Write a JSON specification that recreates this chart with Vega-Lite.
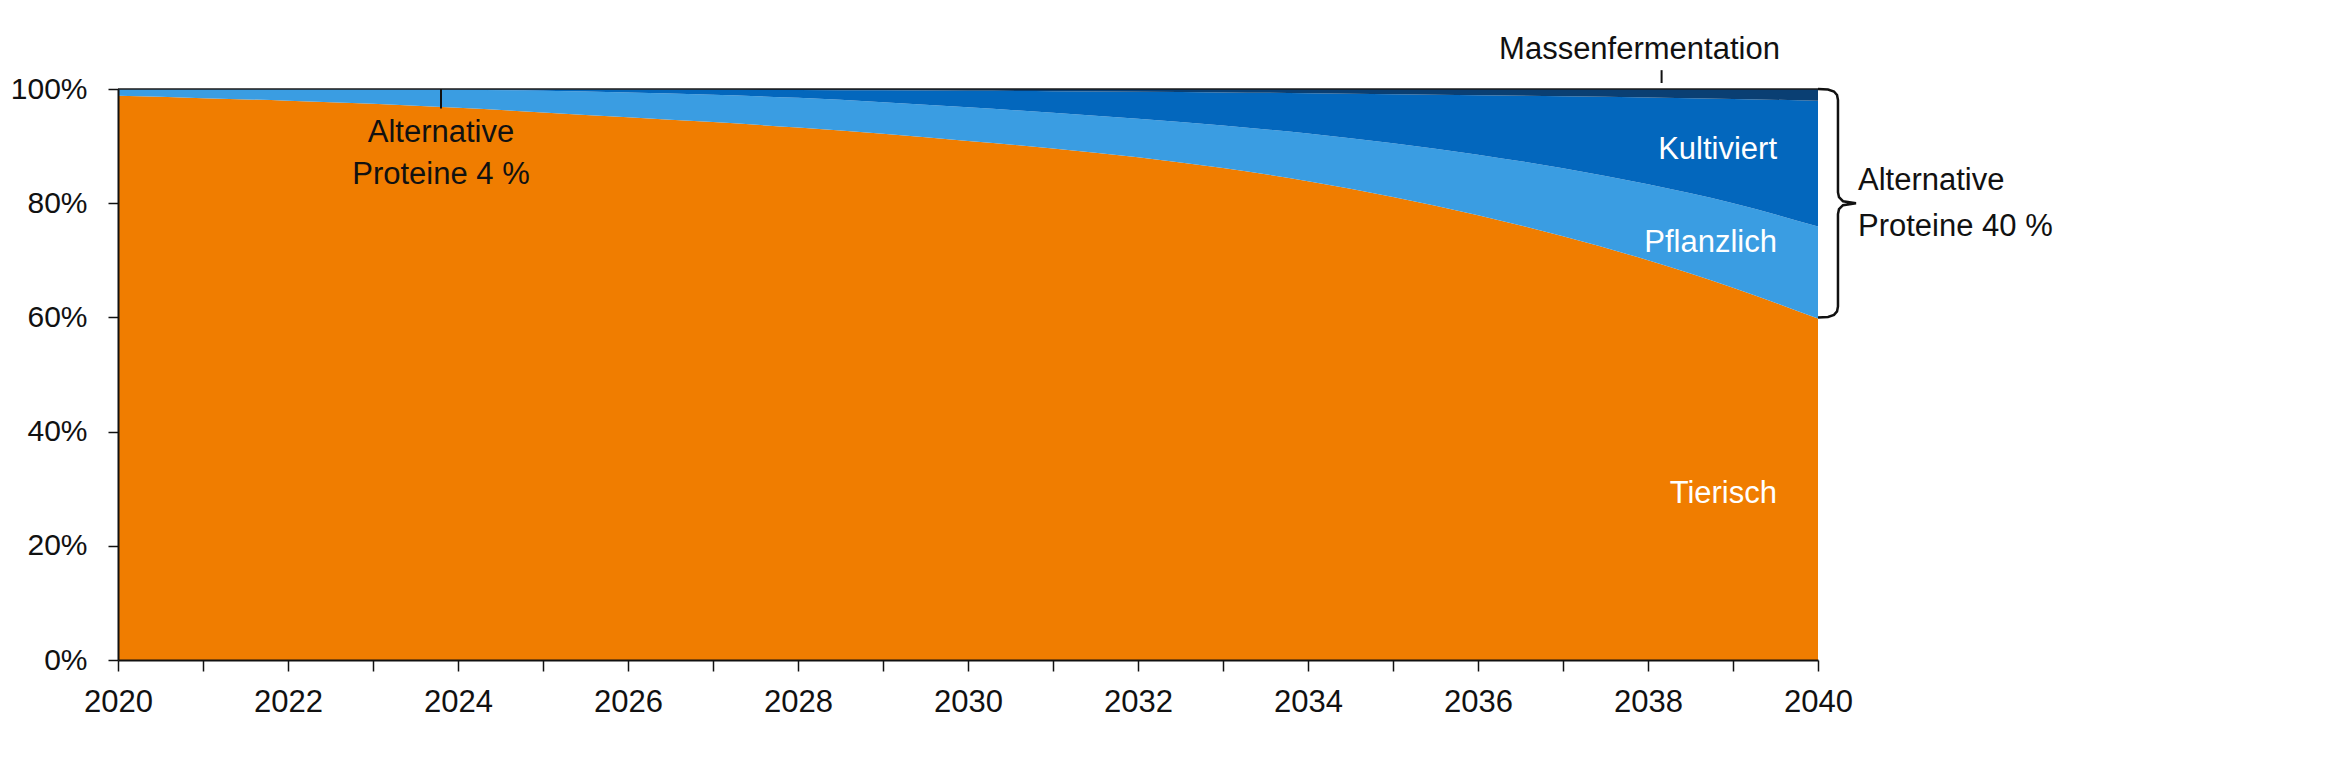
{
  "$schema": "https://vega.github.io/schema/vega-lite/v6.json",
  "autosize": "none",
  "width": 1700,
  "height": 571,
  "padding": {"left": 118, "top": 89, "right": 512, "bottom": 97},
  "config": {
    "view": {"stroke": null},
    "font": "Liberation Sans",
    "text": {"font": "Liberation Sans", "fontSize": 31, "color": "#111"}
  },
  "datasets": {
    "anteile": [
      {"jahr":2020,"typ":"Tierisch","anteil":98.8},{"jahr":2020,"typ":"Pflanzlich","anteil":1.17},{"jahr":2020,"typ":"Kultiviert","anteil":0.02},{"jahr":2020,"typ":"Massenfermentation","anteil":0.01},
      {"jahr":2021,"typ":"Tierisch","anteil":98.4},{"jahr":2021,"typ":"Pflanzlich","anteil":1.57},{"jahr":2021,"typ":"Kultiviert","anteil":0.02},{"jahr":2021,"typ":"Massenfermentation","anteil":0.01},
      {"jahr":2022,"typ":"Tierisch","anteil":97.95},{"jahr":2022,"typ":"Pflanzlich","anteil":2.0},{"jahr":2022,"typ":"Kultiviert","anteil":0.03},{"jahr":2022,"typ":"Massenfermentation","anteil":0.02},
      {"jahr":2023,"typ":"Tierisch","anteil":97.4},{"jahr":2023,"typ":"Pflanzlich","anteil":2.52},{"jahr":2023,"typ":"Kultiviert","anteil":0.05},{"jahr":2023,"typ":"Massenfermentation","anteil":0.03},
      {"jahr":2024,"typ":"Tierisch","anteil":96.7},{"jahr":2024,"typ":"Pflanzlich","anteil":3.15},{"jahr":2024,"typ":"Kultiviert","anteil":0.11},{"jahr":2024,"typ":"Massenfermentation","anteil":0.04},
      {"jahr":2025,"typ":"Tierisch","anteil":95.9},{"jahr":2025,"typ":"Pflanzlich","anteil":3.8},{"jahr":2025,"typ":"Kultiviert","anteil":0.24},{"jahr":2025,"typ":"Massenfermentation","anteil":0.06},
      {"jahr":2026,"typ":"Tierisch","anteil":95.05},{"jahr":2026,"typ":"Pflanzlich","anteil":4.35},{"jahr":2026,"typ":"Kultiviert","anteil":0.51},{"jahr":2026,"typ":"Massenfermentation","anteil":0.09},
      {"jahr":2027,"typ":"Tierisch","anteil":94.2},{"jahr":2027,"typ":"Pflanzlich","anteil":4.8},{"jahr":2027,"typ":"Kultiviert","anteil":0.87},{"jahr":2027,"typ":"Massenfermentation","anteil":0.13},
      {"jahr":2028,"typ":"Tierisch","anteil":93.25},{"jahr":2028,"typ":"Pflanzlich","anteil":5.2},{"jahr":2028,"typ":"Kultiviert","anteil":1.37},{"jahr":2028,"typ":"Massenfermentation","anteil":0.18},
      {"jahr":2029,"typ":"Tierisch","anteil":92.15},{"jahr":2029,"typ":"Pflanzlich","anteil":5.55},{"jahr":2029,"typ":"Kultiviert","anteil":2.06},{"jahr":2029,"typ":"Massenfermentation","anteil":0.24},
      {"jahr":2030,"typ":"Tierisch","anteil":90.9},{"jahr":2030,"typ":"Pflanzlich","anteil":5.9},{"jahr":2030,"typ":"Kultiviert","anteil":2.9},{"jahr":2030,"typ":"Massenfermentation","anteil":0.3},
      {"jahr":2031,"typ":"Tierisch","anteil":89.6},{"jahr":2031,"typ":"Pflanzlich","anteil":6.25},{"jahr":2031,"typ":"Kultiviert","anteil":3.77},{"jahr":2031,"typ":"Massenfermentation","anteil":0.38},
      {"jahr":2032,"typ":"Tierisch","anteil":88.05},{"jahr":2032,"typ":"Pflanzlich","anteil":6.75},{"jahr":2032,"typ":"Kultiviert","anteil":4.72},{"jahr":2032,"typ":"Massenfermentation","anteil":0.48},
      {"jahr":2033,"typ":"Tierisch","anteil":86.15},{"jahr":2033,"typ":"Pflanzlich","anteil":7.45},{"jahr":2033,"typ":"Kultiviert","anteil":5.8},{"jahr":2033,"typ":"Massenfermentation","anteil":0.6},
      {"jahr":2034,"typ":"Tierisch","anteil":83.85},{"jahr":2034,"typ":"Pflanzlich","anteil":8.35},{"jahr":2034,"typ":"Kultiviert","anteil":7.06},{"jahr":2034,"typ":"Massenfermentation","anteil":0.74},
      {"jahr":2035,"typ":"Tierisch","anteil":81.1},{"jahr":2035,"typ":"Pflanzlich","anteil":9.4},{"jahr":2035,"typ":"Kultiviert","anteil":8.6},{"jahr":2035,"typ":"Massenfermentation","anteil":0.9},
      {"jahr":2036,"typ":"Tierisch","anteil":77.9},{"jahr":2036,"typ":"Pflanzlich","anteil":10.6},{"jahr":2036,"typ":"Kultiviert","anteil":10.42},{"jahr":2036,"typ":"Massenfermentation","anteil":1.08},
      {"jahr":2037,"typ":"Tierisch","anteil":74.2},{"jahr":2037,"typ":"Pflanzlich","anteil":11.9},{"jahr":2037,"typ":"Kultiviert","anteil":12.62},{"jahr":2037,"typ":"Massenfermentation","anteil":1.28},
      {"jahr":2038,"typ":"Tierisch","anteil":70.0},{"jahr":2038,"typ":"Pflanzlich","anteil":13.3},{"jahr":2038,"typ":"Kultiviert","anteil":15.2},{"jahr":2038,"typ":"Massenfermentation","anteil":1.5},
      {"jahr":2039,"typ":"Tierisch","anteil":65.2},{"jahr":2039,"typ":"Pflanzlich","anteil":14.8},{"jahr":2039,"typ":"Kultiviert","anteil":18.25},{"jahr":2039,"typ":"Massenfermentation","anteil":1.75},
      {"jahr":2040,"typ":"Tierisch","anteil":59.8},{"jahr":2040,"typ":"Pflanzlich","anteil":16.1},{"jahr":2040,"typ":"Kultiviert","anteil":22.05},{"jahr":2040,"typ":"Massenfermentation","anteil":2.05}
    ],
    "klammer": [
      {"i":1,"x":2040.0,"y":100},
      {"i":2,"x":2040.118,"y":99.91},
      {"i":3,"x":2040.188,"y":99.56},
      {"i":4,"x":2040.224,"y":98.95},
      {"i":5,"x":2040.235,"y":98.07},
      {"i":6,"x":2040.235,"y":81.9},
      {"i":7,"x":2040.247,"y":81.05},
      {"i":8,"x":2040.294,"y":80.35},
      {"i":9,"x":2040.447,"y":80.0},
      {"i":10,"x":2040.294,"y":79.65},
      {"i":11,"x":2040.247,"y":78.95},
      {"i":12,"x":2040.235,"y":78.1},
      {"i":13,"x":2040.235,"y":61.93},
      {"i":14,"x":2040.224,"y":61.05},
      {"i":15,"x":2040.188,"y":60.44},
      {"i":16,"x":2040.118,"y":60.09},
      {"i":17,"x":2040.0,"y":60.0}
    ]
  },
  "layer": [
    {
      "data": {"name": "anteile"},
      "transform": [
        {"calculate": "indexof(['Tierisch','Pflanzlich','Kultiviert','Massenfermentation'], datum.typ)", "as": "rang"}
      ],
      "mark": {"type": "area", "interpolate": "monotone"},
      "encoding": {
        "x": {
          "field": "jahr", "type": "quantitative",
          "scale": {"domain": [2020, 2040], "nice": false, "zero": false},
          "axis": {
            "title": null,
            "values": [2020,2021,2022,2023,2024,2025,2026,2027,2028,2029,2030,2031,2032,2033,2034,2035,2036,2037,2038,2039,2040],
            "labelExpr": "datum.value % 2 == 0 ? datum.value : ''",
            "labelFlush": false, "labelOverlap": false,
            "grid": false, "tickSize": 11, "tickWidth": 1.5, "tickColor": "#111",
            "domainColor": "#111", "domainWidth": 2,
            "labelFontSize": 31, "labelColor": "#111", "labelPadding": 16,
            "labelFont": "Liberation Sans", "zindex": 1
          }
        },
        "y": {
          "field": "anteil", "type": "quantitative", "stack": "zero",
          "scale": {"domain": [0, 100], "nice": false},
          "axis": {
            "title": null,
            "values": [0, 20, 40, 60, 80, 100],
            "labelExpr": "datum.value + '%'",
            "labelFlush": false,
            "grid": false, "tickSize": 10, "tickWidth": 1.5, "tickColor": "#111",
            "domainColor": "#111", "domainWidth": 2,
            "labelFontSize": 30, "labelColor": "#111", "labelPadding": 21,
            "labelFont": "Liberation Sans", "zindex": 1
          }
        },
        "color": {
          "field": "typ", "type": "nominal",
          "scale": {
            "domain": ["Tierisch", "Pflanzlich", "Kultiviert", "Massenfermentation"],
            "range": ["#F07D00", "#3A9DE2", "#0367BD", "#0A3F73"]
          },
          "legend": null
        },
        "order": {"field": "rang", "type": "quantitative", "sort": "ascending"}
      }
    },
    {
      "data": {"values": [{}]},
      "mark": {"type": "rule", "color": "#1a1a1a", "strokeWidth": 1.5},
      "encoding": {"y": {"datum": 100}}
    },
    {
      "data": {"values": [{}]},
      "mark": {"type": "rule", "color": "#111", "strokeWidth": 2},
      "encoding": {"x": {"datum": 2023.8}, "y": {"datum": 96.6}, "y2": {"datum": 100}}
    },
    {
      "data": {"values": [{}]},
      "mark": {"type": "rule", "color": "#111", "strokeWidth": 2},
      "encoding": {"x": {"datum": 2038.16}, "y": {"datum": 101.05}, "y2": {"datum": 103.3}}
    },
    {
      "data": {"name": "klammer"},
      "mark": {"type": "line", "color": "#111", "strokeWidth": 2.5, "interpolate": "linear", "clip": false},
      "encoding": {
        "x": {"field": "x", "type": "quantitative"},
        "y": {"field": "y", "type": "quantitative"},
        "order": {"field": "i", "type": "quantitative"}
      }
    },
    {
      "data": {"values": [{"t": ["Alternative", "Proteine 4 %"]}]},
      "mark": {"type": "text", "align": "center", "baseline": "alphabetic", "lineHeight": 42},
      "encoding": {"x": {"datum": 2023.8}, "y": {"datum": 90.7}, "text": {"field": "t"}}
    },
    {
      "data": {"values": [{"t": "Massenfermentation"}]},
      "mark": {"type": "text", "align": "center", "baseline": "alphabetic"},
      "encoding": {"x": {"datum": 2037.9}, "y": {"datum": 105.3}, "text": {"field": "t"}}
    },
    {
      "data": {"values": [{"t": ["Alternative", "Proteine 40 %"]}]},
      "mark": {"type": "text", "align": "left", "baseline": "alphabetic", "lineHeight": 46, "dx": 40},
      "encoding": {"x": {"datum": 2040}, "y": {"datum": 82.3}, "text": {"field": "t"}}
    },
    {
      "data": {"values": [{"t": "Kultiviert", "p": 87.7}, {"t": "Pflanzlich", "p": 71.4}, {"t": "Tierisch", "p": 27.5}]},
      "mark": {"type": "text", "align": "right", "baseline": "alphabetic", "dx": -41, "color": "white"},
      "encoding": {"x": {"datum": 2040}, "y": {"field": "p", "type": "quantitative"}, "text": {"field": "t"}}
    }
  ]
}
